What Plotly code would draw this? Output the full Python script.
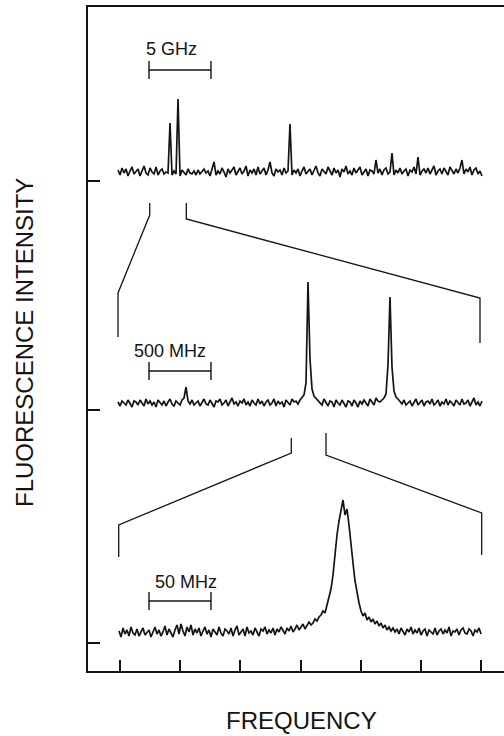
import numpy as np
import plotly.graph_objects as go

# ---------------- data (intensity relative to each baseline) ----------------
trace_5ghz = [
    2, -3, 4, -1, 3, -4, 1, 5, -2, 0,
    3, -4, 2, 6, -1, -3, 4, 0, -2, 5,
    -3, 1, 3, -2, 0, -1, 49, -3, 1, -2,
    73, -4, 2, 0, -3, 3, -1, -2, 1, -3,
    2, -2, 0, 3, -1, 1, -4, 2, 10, -3,
    1, -2, 4, 0, -5, 3, -1, 2, 5, -3,
    0, 4, -2, 1, 6, -4, 2, -1, 3, -3,
    5, -2, 1, 4, -3, 2, 10, -1, -4, 3,
    0, 2, -3, 4, -1, 1, 48, -3, 2, -1,
    3, -4, 1, 5, -2, 0, 3, -3, 2, 6,
    -1, -4, 3, 1, -2, 5, 0, -3, 4, -1,
    2, -5, 3, 0, 6, -2, 1, -3, 4, -1,
    2, 5, -3, 0, 3, -4, 2, 1, -2, 12,
    -1, 3, -3, 2, 4, -2, 0, 19, -3, 2,
    -1, 4, -2, 1, 3, -4, 2, 0, 5, -2,
    15, -3, 1, 3, -1, 4, -2, 2, 6, -3,
    1, 3, -2, 4, 0, -3, 5, 1, -2, 3,
    -1, 4, 12, -2, 3, 0, 5, -3, 2, 4,
    -2, 1, -4,
]

trace_500mhz = [
    1, -3, 2, 0, -2, 3, -1, -4, 2, 1,
    -2, 3, 0, -3, 4, -1, 2, -2, 1, -4,
    3, 0, -2, 2, -3, 1, 4, -1, -3, 2,
    0, -2, 3, 5, 16, 2, -1, 3, -2, 0,
    2, -3, 1, 4, -1, -2, 3, 0, -4, 2,
    1, 4, -2, 0, 3, -3, 2, 5, -1, 1,
    -3, 2, 0, 4, -2, 1, -3, 3, 0, -2,
    4, -1, 2, -3, 1, 3, -2, 0, 4, -3,
    2, -1, 1, -4, 3, 0, -2, 4, 1, 2,
    -1, 3, 5, 8, 20, 121, 44, 14, 7, 5,
    3, 1, -2, 4, 0, -3, 2, 1, -4, 3,
    0, -2, 3, -1, -4, 2, 1, -3, 3, 0,
    -4, 2, -1, 3, 0, -3, 4, 1, -2, 5,
    2, 1, 3, 5, 9, 38, 106, 36, 12, 6,
    4, 2, -1, 3, -2, 0, 2, -3, 1, 4,
    -2, 0, 3, -3, 1, 2, -1, 4, -2, 0,
    3, -3, 1, -1, 4, -2, 2, 0, -3, 3,
    1, -2, 4, -1, 0, 3, -3, 2, 5, -2,
    1, -3, 2,
]

trace_50mhz = [
    2, -4, 5, -1, 3, -3, 6, 0, -2, 4,
    -3, 1, 5, -2, 0, 3, -4, 2, 6, -1,
    3, -3, 1, 7, -2, 4, 0, -4, 3, 8,
    -1, 9, 2, -3, 6, 1, 8, -2, 4, 0,
    5, -3, 2, 6, -1, 3, -4, 4, 1, -2,
    6, 0, -3, 4, 2, -1, 5, -3, 3, 7,
    -2, 1, 4, -3, 6, 0, 2, -2, 5, 1,
    -3, 4, 2, 6, -1, 3, 0, 5, -2, 4,
    1, 6, 3, -1, 5, 2, 7, 1, 4, 8,
    3, 6, 9, 4, 7, 11, 8, 10, 14, 12,
    16, 18, 22, 20, 28, 36, 44, 58, 82, 98,
    112, 121, 133, 118, 124, 108, 92, 70, 52, 40,
    30, 22, 17, 20, 13, 16, 11, 14, 9, 12,
    7, 10, 5, 8, 3, 6, 2, 5, 1, 4,
    -1, 5, 2, -2, 4, 1, 6, -1, 3, 0,
    5, -2, 2, 4, -3, 3, 1, -1, 5, -2,
    2, 4, -1, 3, 0, 6, -3, 2, 1, 4,
    -2, 3, 5, 0, -1, 4, 2, -3, 3, 1,
    5, -1,
]

# frequency span of each sweep (in x-tick units) and baseline offsets
sweep_span = [(-0.033, 6.016), (-0.033, 6.016), (-0.017, 6.000)]
baselines = [499, 268, 38]
panel_ticks = [490, 261, 28]
freq_ticks = [0, 1, 2, 3, 4, 5, 6]

# scale bars: (label, x0, x1, y, label_x, label_y)
scale_bars = [
    ("5 GHz", 0.482, 1.512, 601, 0.848, 622),
    ("500 MHz", 0.482, 1.512, 300, 0.839, 320),
    ("50 MHz", 0.482, 1.512, 70, 1.097, 89.5),
]
cap_half = 9

# magnification guide lines between panels
zoom_guides = [
    ([0.494, 0.494, -0.033, -0.033], [468, 456, 378, 334]),
    ([1.102, 1.102, 5.983, 5.983], [468, 452, 373, 328]),
    ([2.847, 2.847, -0.022, -0.022], [233, 218, 146, 114]),
    ([3.424, 3.424, 6.011, 6.011], [238, 216, 158, 116]),
]

# ---------------- figure ----------------
INK = "#141414"
FONT = "Liberation Sans, Arial, sans-serif"
fig = go.Figure()

for vals, (a, b), base in zip([trace_5ghz, trace_500mhz, trace_50mhz], sweep_span, baselines):
    x = np.linspace(a, b, len(vals))
    y = np.array(vals, dtype=float) + base
    fig.add_trace(go.Scatter(x=x, y=y, mode="lines",
                             line=dict(color=INK, width=1.7), hoverinfo="skip"))

for gx, gy in zoom_guides:
    fig.add_trace(go.Scatter(x=gx, y=gy, mode="lines",
                             line=dict(color=INK, width=1.3), hoverinfo="skip"))

for label, x0, x1, y, lx, ly in scale_bars:
    fig.add_trace(go.Scatter(x=[x0, x0, None, x0, x1, None, x1, x1],
                             y=[y - cap_half, y + cap_half, None, y, y, None, y - cap_half, y + cap_half],
                             mode="lines", line=dict(color=INK, width=1.4), hoverinfo="skip"))
    fig.add_annotation(x=lx, y=ly, xref="x", yref="y", text=label, showarrow=False,
                       font=dict(family=FONT, size=18, color=INK),
                       xanchor="center", yanchor="middle")

fig.add_annotation(x=(301 - 88) / 416, y=(671 - 720) / 664, xref="paper", yref="paper",
                   text="FREQUENCY", showarrow=False,
                   font=dict(family=FONT, size=24, color=INK),
                   xanchor="center", yanchor="middle")
fig.add_annotation(x=(24 - 88) / 416, y=(671 - 343) / 664, xref="paper", yref="paper",
                   text="FLUORESCENCE INTENSITY", showarrow=False, textangle=-90,
                   font=dict(family=FONT, size=24, color=INK),
                   xanchor="center", yanchor="middle")

fig.update_layout(
    width=504, height=736,
    margin=dict(l=88, r=0, t=7, b=65),
    paper_bgcolor="white", plot_bgcolor="white",
    showlegend=False,
    xaxis=dict(range=[-0.532, 6.382], tickvals=freq_ticks, ticks="inside", ticklen=11,
               tickwidth=1.5, tickcolor=INK, showticklabels=False, showgrid=False,
               zeroline=False, showline=True, linecolor=INK, linewidth=2, mirror=True),
    yaxis=dict(range=[0, 664], tickvals=panel_ticks, ticks="inside", ticklen=12,
               tickwidth=1.5, tickcolor=INK, showticklabels=False, showgrid=False,
               zeroline=False, showline=True, linecolor=INK, linewidth=1.6),
)

fig.write_html("out.html")
